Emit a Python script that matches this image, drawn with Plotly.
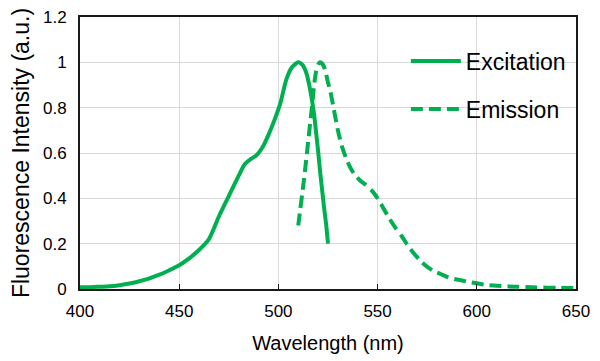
import plotly.graph_objects as go

# Excitation spectrum
ex_wl = [400, 405, 410, 415, 420, 425, 430, 435, 440, 445, 450, 455, 460, 465, 470, 475,
         480, 483, 486, 489, 492, 495, 498, 501, 504, 507, 510, 512, 514, 516, 518, 519,
         520, 521, 522, 523, 524, 525]
ex_int = [0.008, 0.008, 0.01, 0.012, 0.017, 0.024, 0.034, 0.047, 0.063, 0.083, 0.105, 0.135,
          0.172, 0.22, 0.32, 0.41, 0.5, 0.55, 0.573, 0.59, 0.625, 0.68, 0.745, 0.82, 0.925,
          0.98, 1.0, 0.99, 0.955, 0.88, 0.77, 0.69, 0.61, 0.52, 0.44, 0.36, 0.29, 0.2]

# Emission spectrum
em_wl = [510, 511, 512, 513, 514, 515, 516, 517, 518, 519, 520, 521, 522, 523, 524, 525, 526,
         528, 530, 532, 534, 536, 538, 541, 544, 547, 550, 553, 556, 559, 562, 565, 568, 571,
         574, 578, 582, 586, 590, 595, 600, 605, 610, 620, 630, 640, 650]
em_int = [0.28, 0.35, 0.42, 0.49, 0.57, 0.65, 0.73, 0.81, 0.9, 0.96, 0.99, 1.0, 0.995, 0.98,
          0.95, 0.91, 0.88, 0.79, 0.7, 0.63, 0.58, 0.54, 0.51, 0.48, 0.46, 0.435, 0.4, 0.355,
          0.31, 0.27, 0.235, 0.195, 0.16, 0.13, 0.105, 0.08, 0.065, 0.05, 0.042, 0.033, 0.025,
          0.018, 0.014, 0.01, 0.007, 0.005, 0.004]

x_ticks = [400, 450, 500, 550, 600, 650]
y_ticks = [0, 0.2, 0.4, 0.6, 0.8, 1, 1.2]
y_labels = ["0", "0.2", "0.4", "0.6", "0.8", "1", "1.2"]

GREEN = "#00B050"
FONT = "Liberation Sans, Arial, sans-serif"

fig = go.Figure()
fig.add_trace(go.Scatter(x=ex_wl, y=ex_int, mode="lines", name="Excitation",
                         line=dict(color=GREEN, width=4, shape="spline", smoothing=0.6),
                         legend="legend"))
fig.add_trace(go.Scatter(x=em_wl, y=em_int, mode="lines", name="Emission",
                         line=dict(color=GREEN, width=4, dash="12px,6px", shape="spline", smoothing=0.6),
                         legend="legend2"))

# page has an 8px body margin; plot area on page: x 80..576, y 17..289
fig.update_layout(
    width=592, height=353,
    margin=dict(l=72, r=24, t=9, b=72, autoexpand=False),
    paper_bgcolor="white", plot_bgcolor="white",
    font=dict(family=FONT, color="black"),
    showlegend=True,
    legend=dict(x=0.657, y=(289 - 61) / 272, xanchor="left", yanchor="middle", font=dict(size=23),
                bgcolor="rgba(0,0,0,0)", itemwidth=50),
    legend2=dict(x=0.657, y=(289 - 109) / 272, xanchor="left", yanchor="middle", font=dict(size=23),
                 bgcolor="rgba(0,0,0,0)", itemwidth=50),
    xaxis=dict(range=[400, 650], tickvals=x_ticks, ticktext=[str(v) for v in x_ticks],
               showgrid=True, gridcolor="#d9d9d9", gridwidth=1,
               showline=True, linecolor="#1a1a1a", linewidth=2, mirror=True,
               ticks="inside", ticklen=5, tickcolor="#1a1a1a",
               tickfont=dict(size=17), ticklabelstandoff=6, automargin=False,
               ticklabeloverflow="allow",
               title=dict(text="Wavelength (nm)", font=dict(size=20), standoff=16),
               zeroline=False),
    yaxis=dict(range=[0, 1.2], tickvals=y_ticks, ticktext=y_labels,
               showgrid=True, gridcolor="#d9d9d9", gridwidth=1,
               showline=True, linecolor="#1a1a1a", linewidth=2, mirror=True,
               ticks="", tickfont=dict(size=17), ticklabelstandoff=8, automargin=False,
               ticklabeloverflow="allow",
               title=dict(text="Fluorescence Intensity (a.u.)", font=dict(size=23), standoff=11),
               zeroline=False),
)

fig.write_html("out.html")
